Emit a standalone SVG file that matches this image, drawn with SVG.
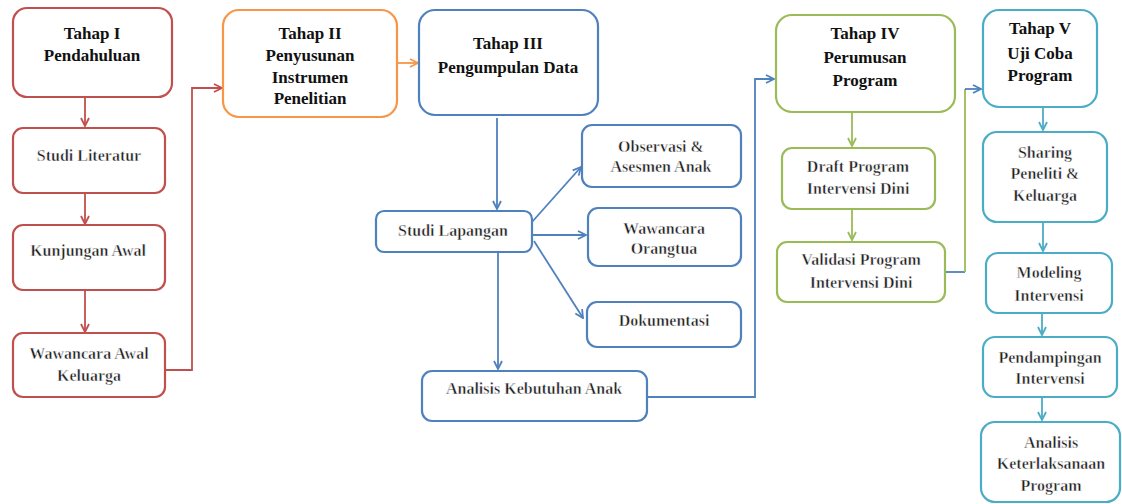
<svg xmlns="http://www.w3.org/2000/svg" width="1122" height="504" viewBox="0 0 1122 504">
<style>
text{font-family:"Liberation Serif",serif;font-size:16px;font-weight:bold;fill:#1a1a1a;text-anchor:middle;dominant-baseline:central;stroke:#fff;stroke-width:0.45px;paint-order:normal}
.b{font-size:17px;stroke:none;fill:#111}
rect{fill:#fff;stroke-width:2.2}
.red rect{stroke:#c0504d}
.org rect{stroke:#f79646}
.blu rect{stroke:#4f81bd}
.grn rect{stroke:#9bbb59}
.teal rect{stroke:#4bacc6}
.c{fill:none;stroke-width:1.8}
.cr{stroke:#c0504d}.co{stroke:#f79646}.cb{stroke:#4f81bd}.cg{stroke:#9bbb59}.ct{stroke:#4bacc6}
</style>
<defs>
<marker id="mr" viewBox="0 0 10 10" refX="9" refY="5" markerWidth="10" markerHeight="10" markerUnits="userSpaceOnUse" orient="auto"><path d="M1,1 L9,5 L1,9" fill="none" stroke="#c0504d" stroke-width="1.8"/></marker>
<marker id="mo" viewBox="0 0 10 10" refX="9" refY="5" markerWidth="10" markerHeight="10" markerUnits="userSpaceOnUse" orient="auto"><path d="M1,1 L9,5 L1,9" fill="none" stroke="#f79646" stroke-width="1.8"/></marker>
<marker id="mb" viewBox="0 0 10 10" refX="9" refY="5" markerWidth="10" markerHeight="10" markerUnits="userSpaceOnUse" orient="auto"><path d="M1,1 L9,5 L1,9" fill="none" stroke="#4f81bd" stroke-width="1.8"/></marker>
<marker id="mg" viewBox="0 0 10 10" refX="9" refY="5" markerWidth="10" markerHeight="10" markerUnits="userSpaceOnUse" orient="auto"><path d="M1,1 L9,5 L1,9" fill="none" stroke="#9bbb59" stroke-width="1.8"/></marker>
<marker id="mt" viewBox="0 0 10 10" refX="9" refY="5" markerWidth="10" markerHeight="10" markerUnits="userSpaceOnUse" orient="auto"><path d="M1,1 L9,5 L1,9" fill="none" stroke="#4bacc6" stroke-width="1.8"/></marker>
</defs>
<rect x="0" y="0" width="1122" height="504" style="stroke:none;fill:#fff"/>

<g id="connectors">
<path class="c cr" d="M85,97 V126" marker-end="url(#mr)"/>
<path class="c cr" d="M85,193 V224" marker-end="url(#mr)"/>
<path class="c cr" d="M85,290 V332" marker-end="url(#mr)"/>
<path class="c cr" d="M165,370 H192 V88 H222" marker-end="url(#mr)"/>
<path class="c co" d="M396,63 H418" marker-end="url(#mo)"/>
<path class="c cb" d="M497,118 V209" marker-end="url(#mb)"/>
<path class="c cb" d="M532,222 L581,167" marker-end="url(#mb)"/>
<path class="c cb" d="M532,235 H586" marker-end="url(#mb)"/>
<path class="c cb" d="M534,241 L583,318" marker-end="url(#mb)"/>
<path class="c cb" d="M498,253 V369" marker-end="url(#mb)"/>
<path class="c cb" d="M647,397 H755 V79 H774" marker-end="url(#mb)"/>
<path class="c cg" d="M852,112 V146" marker-end="url(#mg)"/>
<path class="c cg" d="M852,209 V240" marker-end="url(#mg)"/>
<path class="c cb" d="M945,272 H965"/>
<path class="c cg" d="M965,272 V89"/>
<path class="c cb" d="M965,89 H981" marker-end="url(#mb)"/>
<path class="c ct" d="M1043,107 V130" marker-end="url(#mt)"/>
<path class="c ct" d="M1043,222 V251" marker-end="url(#mt)"/>
<path class="c ct" d="M1042,313 V335" marker-end="url(#mt)"/>
<path class="c ct" d="M1042,397 V420" marker-end="url(#mt)"/>
</g>

<g id="tahap1" class="red"><rect x="13" y="8" width="159" height="89" rx="14"/><text class="b" x="92" y="33">Tahap I</text><text class="b" x="92" y="55">Pendahuluan</text></g>
<g id="studi-literatur" class="red"><rect x="13" y="128" width="152" height="65" rx="10"/><text x="89" y="155">Studi Literatur</text></g>
<g id="kunjungan-awal" class="red"><rect x="13" y="225" width="152" height="65" rx="10"/><text x="88" y="250">Kunjungan Awal</text></g>
<g id="wawancara-awal" class="red"><rect x="13" y="333" width="152" height="64" rx="10"/><text x="89" y="353">Wawancara Awal</text><text x="89" y="375">Keluarga</text></g>

<g id="tahap2" class="org"><rect x="223" y="10" width="174" height="107" rx="16"/><text class="b" x="310" y="33">Tahap II</text><text class="b" x="310" y="55">Penyusunan</text><text class="b" x="310" y="77">Instrumen</text><text class="b" x="310" y="98">Penelitian</text></g>

<g id="tahap3" class="blu"><rect x="419" y="10" width="179" height="105" rx="16"/><text class="b" x="508" y="43">Tahap III</text><text class="b" x="508" y="67">Pengumpulan Data</text></g>
<g id="studi-lapangan" class="blu"><rect x="376" y="211" width="156" height="41" rx="8"/><text x="453" y="230">Studi Lapangan</text></g>
<g id="observasi" class="blu"><rect x="582" y="125" width="159" height="62" rx="10"/><text x="661" y="146">Observasi &amp;</text><text x="661" y="166">Asesmen Anak</text></g>
<g id="wawancara-orangtua" class="blu"><rect x="588" y="208" width="153" height="58" rx="10"/><text x="664" y="228">Wawancara</text><text x="664" y="248">Orangtua</text></g>
<g id="dokumentasi" class="blu"><rect x="587" y="302" width="154" height="45" rx="10"/><text x="664" y="320">Dokumentasi</text></g>
<g id="analisis-kebutuhan" class="blu"><rect x="422" y="371" width="225" height="50" rx="10"/><text x="534" y="388">Analisis Kebutuhan Anak</text></g>

<g id="tahap4" class="grn"><rect x="776" y="15" width="179" height="97" rx="16"/><text class="b" x="865" y="33">Tahap IV</text><text class="b" x="865" y="57">Perumusan</text><text class="b" x="865" y="80">Program</text></g>
<g id="draft-program" class="grn"><rect x="782" y="148" width="153" height="61" rx="10"/><text x="858" y="166">Draft Program</text><text x="858" y="188">Intervensi Dini</text></g>
<g id="validasi-program" class="grn"><rect x="777" y="242" width="168" height="60" rx="10"/><text x="861" y="259">Validasi Program</text><text x="861" y="282">Intervensi Dini</text></g>

<g id="tahap5" class="teal"><rect x="983" y="10" width="114" height="97" rx="16"/><text class="b" x="1040" y="28">Tahap V</text><text class="b" x="1040" y="53">Uji Coba</text><text class="b" x="1040" y="75">Program</text></g>
<g id="sharing" class="teal"><rect x="983" y="132" width="124" height="90" rx="14"/><text x="1045" y="152">Sharing</text><text x="1045" y="173">Peneliti &amp;</text><text x="1045" y="195">Keluarga</text></g>
<g id="modeling" class="teal"><rect x="986" y="253" width="126" height="60" rx="12"/><text x="1049" y="272">Modeling</text><text x="1049" y="295">Intervensi</text></g>
<g id="pendampingan" class="teal"><rect x="983" y="337" width="134" height="60" rx="12"/><text x="1050" y="357">Pendampingan</text><text x="1050" y="378">Intervensi</text></g>
<g id="analisis-keterlaksanaan" class="teal"><rect x="981" y="422" width="139" height="80" rx="14"/><text x="1051" y="442">Analisis</text><text x="1051" y="463">Keterlaksanaan</text><text x="1051" y="485">Program</text></g>
</svg>
